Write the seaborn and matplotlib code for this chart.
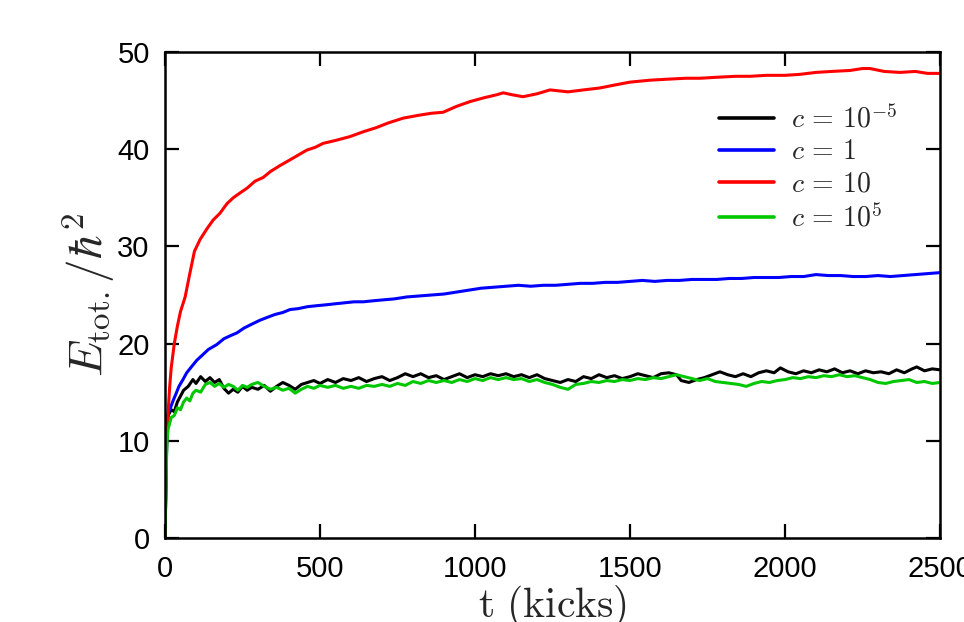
import matplotlib
matplotlib.use("Agg")
import matplotlib.pyplot as plt
import seaborn as sns
import pandas as pd

# ---- data ----
t_black = [0, 3, 6, 10, 15, 20, 30, 40, 50, 60, 75, 90, 100, 115, 130, 145, 160, 175, 190, 205, 220, 235, 250, 265, 280, 300, 320, 340, 360, 380, 400, 420, 440, 460, 480, 500, 525, 550, 575, 600, 625, 650, 675, 700, 725, 750, 775, 800, 825, 850, 875, 900, 925, 950, 975, 1000, 1025, 1050, 1075, 1100, 1125, 1150, 1175, 1200, 1225, 1250, 1275, 1300, 1325, 1350, 1375, 1400, 1425, 1450, 1475, 1500, 1525, 1550, 1575, 1600, 1625, 1650, 1665, 1690, 1715, 1740, 1765, 1790, 1815, 1840, 1865, 1890, 1915, 1940, 1965, 1985, 2010, 2035, 2060, 2085, 2110, 2135, 2160, 2185, 2210, 2235, 2260, 2285, 2310, 2335, 2360, 2385, 2410, 2425, 2450, 2475, 2500]
e_black = [0, 5.5, 10.5, 12.6, 12.9, 13.2, 13.0, 14.0, 14.6, 15.2, 15.6, 16.3, 15.9, 16.6, 16.1, 16.5, 16.0, 16.3, 15.4, 14.9, 15.3, 15.0, 15.6, 15.2, 15.5, 15.3, 15.7, 15.1, 15.6, 16.0, 15.7, 15.3, 15.8, 16.0, 16.2, 15.9, 16.3, 16.0, 16.4, 16.2, 16.5, 16.1, 16.4, 16.6, 16.2, 16.5, 16.9, 16.6, 16.9, 16.5, 16.7, 16.3, 16.6, 16.9, 16.5, 16.8, 16.6, 16.9, 16.7, 16.9, 16.6, 16.8, 16.5, 16.8, 16.4, 16.2, 16.0, 16.3, 16.1, 16.6, 16.4, 16.8, 16.5, 16.7, 16.4, 16.6, 16.9, 16.7, 16.5, 16.9, 17.0, 16.8, 16.2, 16.0, 16.3, 16.5, 16.8, 17.1, 16.8, 16.6, 16.9, 16.6, 17.0, 17.2, 17.0, 17.5, 17.1, 16.9, 17.2, 17.0, 17.3, 17.1, 17.4, 17.0, 17.2, 16.9, 17.2, 17.0, 17.1, 16.9, 17.3, 17.0, 17.4, 17.6, 17.2, 17.4, 17.3]

t_blue = [0, 3, 6, 10, 15, 20, 27, 35, 45, 58, 70, 85, 103, 120, 140, 167, 190, 210, 232, 255, 280, 306, 330, 355, 380, 403, 430, 460, 490, 522, 550, 580, 610, 640, 670, 704, 740, 780, 820, 860, 900, 940, 980, 1020, 1060, 1100, 1140, 1180, 1220, 1260, 1300, 1340, 1380, 1420, 1460, 1500, 1540, 1580, 1620, 1660, 1700, 1740, 1780, 1820, 1860, 1900, 1940, 1980, 2020, 2060, 2100, 2140, 2180, 2220, 2260, 2300, 2340, 2380, 2420, 2460, 2500]
e_blue = [0, 5.5, 10.8, 12.8, 13.2, 13.6, 14.2, 14.8, 15.6, 16.3, 17.0, 17.6, 18.3, 18.8, 19.4, 19.9, 20.5, 20.8, 21.1, 21.6, 22.0, 22.4, 22.7, 23.0, 23.2, 23.5, 23.6, 23.8, 23.9, 24.0, 24.1, 24.2, 24.3, 24.3, 24.4, 24.5, 24.6, 24.8, 24.9, 25.0, 25.1, 25.3, 25.5, 25.7, 25.8, 25.9, 26.0, 25.9, 26.0, 26.0, 26.1, 26.2, 26.2, 26.3, 26.3, 26.4, 26.5, 26.4, 26.5, 26.5, 26.6, 26.6, 26.6, 26.7, 26.7, 26.8, 26.8, 26.8, 26.9, 26.9, 27.1, 27.0, 27.0, 26.9, 26.9, 27.0, 26.9, 27.0, 27.1, 27.2, 27.3]

t_red = [0, 3, 6, 10, 15, 20, 30, 40, 50, 65, 80, 95, 113, 135, 155, 177, 200, 220, 242, 265, 290, 317, 340, 370, 403, 430, 457, 485, 510, 550, 597, 640, 680, 720, 769, 820, 860, 897, 940, 984, 1030, 1070, 1091, 1120, 1155, 1200, 1242, 1300, 1350, 1403, 1450, 1500, 1565, 1620, 1680, 1726, 1780, 1840, 1887, 1940, 2000, 2048, 2100, 2150, 2210, 2250, 2274, 2320, 2371, 2420, 2460, 2500]
e_red = [0, 6.0, 11.5, 12.9, 15.5, 17.5, 20.0, 21.8, 23.3, 24.8, 27.2, 29.5, 30.7, 31.8, 32.7, 33.4, 34.4, 35.0, 35.5, 36.0, 36.7, 37.1, 37.7, 38.3, 38.9, 39.4, 39.9, 40.2, 40.6, 40.9, 41.3, 41.8, 42.2, 42.7, 43.2, 43.5, 43.7, 43.8, 44.4, 44.9, 45.3, 45.6, 45.8, 45.6, 45.4, 45.7, 46.1, 45.9, 46.1, 46.3, 46.6, 46.9, 47.1, 47.2, 47.3, 47.3, 47.4, 47.5, 47.5, 47.6, 47.6, 47.7, 47.9, 48.0, 48.1, 48.3, 48.3, 48.0, 47.9, 48.0, 47.8, 47.8]

t_green = [0, 3, 6, 10, 15, 20, 30, 40, 50, 60, 70, 80, 90, 100, 115, 130, 145, 160, 175, 190, 205, 220, 235, 250, 265, 280, 300, 320, 340, 360, 380, 400, 420, 440, 460, 480, 500, 525, 550, 575, 600, 625, 650, 675, 700, 725, 750, 775, 800, 825, 850, 875, 900, 925, 950, 975, 1000, 1025, 1050, 1075, 1100, 1125, 1150, 1175, 1200, 1225, 1250, 1275, 1300, 1325, 1350, 1375, 1400, 1425, 1450, 1475, 1500, 1525, 1550, 1575, 1600, 1625, 1650, 1675, 1700, 1725, 1750, 1775, 1800, 1825, 1850, 1875, 1900, 1925, 1950, 1975, 2000, 2025, 2050, 2075, 2100, 2125, 2150, 2175, 2200, 2225, 2250, 2275, 2300, 2325, 2350, 2375, 2400, 2425, 2450, 2475, 2500]
e_green = [0, 5.0, 9.8, 11.2, 11.8, 12.4, 12.6, 13.4, 13.2, 14.0, 14.4, 14.1, 14.9, 15.2, 15.0, 15.8, 16.0, 15.6, 15.9, 15.5, 15.8, 15.6, 15.2, 15.7, 15.5, 15.8, 16.0, 15.6, 15.3, 15.5, 15.2, 15.4, 14.9, 15.3, 15.6, 15.4, 15.7, 15.5, 15.7, 15.4, 15.6, 15.4, 15.7, 15.6, 15.8, 15.6, 15.9, 15.7, 16.1, 15.9, 16.2, 16.0, 16.2, 16.0, 16.3, 16.1, 16.4, 16.2, 16.5, 16.3, 16.5, 16.3, 16.4, 16.1, 16.3, 16.0, 15.8, 15.5, 15.3, 15.8, 15.9, 16.1, 16.0, 16.2, 16.1, 16.3, 16.2, 16.4, 16.3, 16.5, 16.4, 16.6, 16.8, 16.6, 16.4, 16.2, 16.4, 16.1, 16.0, 15.9, 15.8, 15.6, 15.9, 16.1, 16.0, 16.2, 16.3, 16.5, 16.4, 16.6, 16.5, 16.7, 16.6, 16.8, 16.6, 16.7, 16.5, 16.3, 16.0, 15.9, 16.1, 16.2, 16.3, 16.0, 16.1, 15.9, 16.0]

labels = [r"$c\,=\,10^{-5}$", r"$c\,=\,1$", r"$c\,=\,10$", r"$c\,=\,10^{5}$"]
colors = ["#000000", "#0000ff", "#ff0000", "#00c800"]
x_ticks = [0, 500, 1000, 1500, 2000, 2500]
y_ticks = [0, 10, 20, 30, 40, 50]

frames = []
for lab, tt, ee in zip(labels, [t_black, t_blue, t_red, t_green],
                       [e_black, e_blue, e_red, e_green]):
    frames.append(pd.DataFrame({"t": tt, "E": ee, "series": lab}))
df = pd.concat(frames, ignore_index=True)

sns.set_style("ticks")
plt.rcParams["mathtext.fontset"] = "cm"
plt.rcParams["font.family"] = ["Liberation Sans", "DejaVu Sans"]

fig = plt.figure(figsize=(9.64, 6.22), dpi=100)
ax = fig.add_axes([165 / 964, 1 - 538 / 622, 775 / 964, 486 / 622])

sns.lineplot(data=df, x="t", y="E", hue="series", hue_order=labels,
             palette=colors, estimator=None, sort=False, linewidth=2.2, ax=ax)

ax.set_xlim(0, 2500)
ax.set_ylim(0, 50)
ax.set_xticks(x_ticks)
ax.set_yticks(y_ticks)
ax.tick_params(direction="in", length=10, width=1.6, top=True, right=True,
               labelsize=21, colors="black")
ax.tick_params(axis="x", pad=12)
ax.tick_params(axis="y", pad=11)
for s in ax.spines.values():
    s.set_linewidth(1.8)
    s.set_color("black")

ax.set_xlabel(r"$\mathrm{t\ (kicks)}$", fontsize=30, labelpad=0)
ax.set_ylabel(r"$E_{\mathrm{tot.}}/\hbar^2$", fontsize=34, labelpad=0)

leg = ax.legend(loc="upper left", bbox_to_anchor=(0.682, 0.943), frameon=False,
                fontsize=20, handlelength=2.0, handletextpad=0.6, labelspacing=0.22)
for h in leg.get_lines():
    h.set_linewidth(2.6)

fig.savefig("out.png", dpi=100)
